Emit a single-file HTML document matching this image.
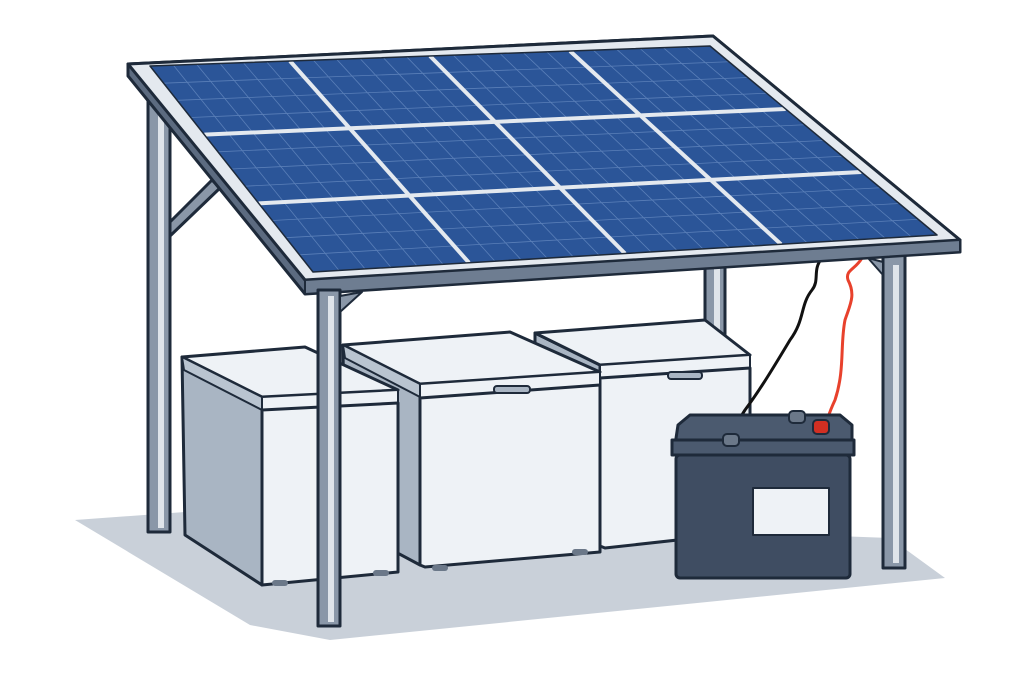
<!DOCTYPE html>
<html><head><meta charset="utf-8"><style>
html,body{margin:0;padding:0;background:#fff;width:1024px;height:683px;overflow:hidden}
svg{display:block}
</style></head><body>
<svg id="s" width="1024" height="683" viewBox="0 0 1024 683" xmlns="http://www.w3.org/2000/svg" stroke-linejoin="round">
<!-- ground shadow -->
<polygon points="75,520 185,512 890,538 945,578 330,640 250,625" fill="#c9d0d9"/>
<!-- back left post -->
<rect x="148" y="95" width="22" height="437" fill="#8a97a8" stroke="#1e2a3a" stroke-width="3"/>
<rect x="158" y="100" width="6" height="428" fill="#dfe4ea"/>
<polygon points="170,222 212,180 220,188 170,236" fill="#8a97a8" stroke="#1e2a3a" stroke-width="3"/>
<!-- back right post -->
<rect x="705" y="262" width="20" height="90" fill="#8a97a8" stroke="#1e2a3a" stroke-width="3"/>
<rect x="714" y="266" width="6" height="84" fill="#dfe4ea"/>
<!-- right freezer (back) -->
<polygon points="535,333 600,365 600,548 535,520" fill="#a9b5c3" stroke="#1e2a3a" stroke-width="3"/>
<polygon points="535,333 705,320 750,355 600,365" fill="#eef2f6" stroke="#1e2a3a" stroke-width="3"/>
<polygon points="600,365 750,355 750,368 600,378" fill="#eef2f6" stroke="#1e2a3a" stroke-width="2"/>
<polygon points="600,378 750,368 750,532 605,548 600,546" fill="#eef2f6" stroke="#1e2a3a" stroke-width="3"/>
<rect x="668" y="372" width="34" height="7" rx="3" fill="#a9b5c3" stroke="#1e2a3a" stroke-width="2"/>
<!-- middle freezer -->
<polygon points="343,345 420,384 420,565 345,525" fill="#a9b5c3" stroke="#1e2a3a" stroke-width="3"/>
<polygon points="343,345 510,332 600,372 420,384" fill="#eef2f6" stroke="#1e2a3a" stroke-width="3"/>
<polygon points="343,345 420,384 420,397 345,358" fill="#b9c4d0" stroke="#1e2a3a" stroke-width="2"/>
<polygon points="420,384 600,372 600,385 420,398" fill="#eef2f6" stroke="#1e2a3a" stroke-width="2"/>
<polygon points="420,398 600,385 600,552 425,567 420,565" fill="#eef2f6" stroke="#1e2a3a" stroke-width="3"/>
<rect x="494" y="386" width="36" height="7" rx="3" fill="#a9b5c3" stroke="#1e2a3a" stroke-width="2"/>
<rect x="432" y="565" width="16" height="6" rx="3" fill="#6b7889"/><rect x="572" y="549" width="16" height="6" rx="3" fill="#6b7889"/>
<!-- left freezer (front) -->
<polygon points="182,357 262,397 262,585 185,535" fill="#a9b5c3" stroke="#1e2a3a" stroke-width="3"/>
<polygon points="182,357 305,347 398,390 262,397" fill="#eef2f6" stroke="#1e2a3a" stroke-width="3"/>
<polygon points="182,357 262,397 262,410 184,370" fill="#b9c4d0" stroke="#1e2a3a" stroke-width="2"/>
<polygon points="262,397 398,390 398,403 262,410" fill="#eef2f6" stroke="#1e2a3a" stroke-width="2"/>
<polygon points="262,410 398,403 398,572 262,585" fill="#eef2f6" stroke="#1e2a3a" stroke-width="3"/>
<rect x="272" y="580" width="16" height="6" rx="3" fill="#6b7889"/><rect x="373" y="570" width="16" height="6" rx="3" fill="#6b7889"/>
<!-- front right post -->
<rect x="883" y="255" width="22" height="313" fill="#8a97a8" stroke="#1e2a3a" stroke-width="3"/>
<rect x="893" y="265" width="6" height="298" fill="#dfe4ea"/>
<polygon points="868,258 883,275 883,262" fill="#8a97a8" stroke="#1e2a3a" stroke-width="2"/>
<!-- wires -->
<path d="M822,258 C812,270 820,280 812,290 C800,305 805,320 790,340 C775,365 760,390 745,410 C735,425 738,430 736,440" fill="none" stroke="#111" stroke-width="3"/>
<path d="M862,258 C855,270 845,270 848,280 C856,295 850,305 845,320 C840,345 845,370 835,400 C828,415 825,425 826,432" fill="none" stroke="#e8412c" stroke-width="3"/>
<!-- battery -->
<polygon points="678,425 690,415 840,415 852,425 852,445 675,445" fill="#4b5a6f" stroke="#1e2a3a" stroke-width="3"/>
<rect x="672" y="440" width="182" height="15" fill="#4b5a6f" stroke="#1e2a3a" stroke-width="3"/>
<rect x="676" y="455" width="174" height="123" rx="4" fill="#3f4d62" stroke="#1e2a3a" stroke-width="3"/>
<rect x="753" y="488" width="76" height="47" fill="#eef2f6" stroke="#1e2a3a" stroke-width="2"/>
<rect x="723" y="434" width="16" height="12" rx="4" fill="#6b7889" stroke="#1e2a3a" stroke-width="2"/>
<rect x="789" y="411" width="16" height="12" rx="4" fill="#6b7889" stroke="#1e2a3a" stroke-width="2"/>
<rect x="813" y="420" width="16" height="14" rx="4" fill="#d22f22" stroke="#1e2a3a" stroke-width="2"/>
<!-- panel roof -->
<polygon points="128,64 713,36 960,240 960,252 305,294 128,76" fill="#5c6b80" stroke="#1e2a3a" stroke-width="3"/>
<polygon points="128,64 713,36 960,240 305,280" fill="#e4e9ef" stroke="#1e2a3a" stroke-width="3"/>
<polygon points="305,280 960,240 960,252 305,294" fill="#6e7d91" stroke="#1e2a3a" stroke-width="2"/>
<g id="pv"></g>
<!-- front left post -->
<rect x="318" y="290" width="22" height="336" fill="#8a97a8" stroke="#1e2a3a" stroke-width="3"/>
<rect x="328" y="296" width="6" height="326" fill="#dfe4ea"/>
<polygon points="340,296 362,292 340,312" fill="#8a97a8" stroke="#1e2a3a" stroke-width="2"/>
</svg>
<script>
(function(){
var TL=[150,66],TR=[710,46],BL=[313,272],BR=[937,235];
function P(u,v){var tx=TL[0]+(TR[0]-TL[0])*u,ty=TL[1]+(TR[1]-TL[1])*u,bx=BL[0]+(BR[0]-BL[0])*u,by=BL[1]+(BR[1]-BL[1])*u;return[tx+(bx-tx)*v,ty+(by-ty)*v];}
var g=document.getElementById('pv'),h='';
var pts=[P(0,0),P(1,0),P(1,1),P(0,1)].map(function(p){return p.join(',')}).join(' ');
h+='<polygon points="'+pts+'" fill="#2b5598"/>';
for(var i=1;i<24;i++){if(i%6==0)continue;var a=P(i/24,0),b=P(i/24,1);h+='<line x1="'+a[0]+'" y1="'+a[1]+'" x2="'+b[0]+'" y2="'+b[1]+'" stroke="#5a7fb8" stroke-width="0.8"/>';}
for(var j=1;j<12;j++){if(j%4==0)continue;var a=P(0,j/12),b=P(1,j/12);h+='<line x1="'+a[0]+'" y1="'+a[1]+'" x2="'+b[0]+'" y2="'+b[1]+'" stroke="#5a7fb8" stroke-width="0.8"/>';}
for(var i=1;i<4;i++){var a=P(i/4,0),b=P(i/4,1);h+='<line x1="'+a[0]+'" y1="'+a[1]+'" x2="'+b[0]+'" y2="'+b[1]+'" stroke="#e4e9ef" stroke-width="4"/>';}
for(var j=1;j<3;j++){var a=P(0,j/3),b=P(1,j/3);h+='<line x1="'+a[0]+'" y1="'+a[1]+'" x2="'+b[0]+'" y2="'+b[1]+'" stroke="#e4e9ef" stroke-width="4"/>';}
h+='<polygon points="'+pts+'" fill="none" stroke="#1e2a3a" stroke-width="1.5"/>';
g.innerHTML=h;
})();
</script>
</body></html>
